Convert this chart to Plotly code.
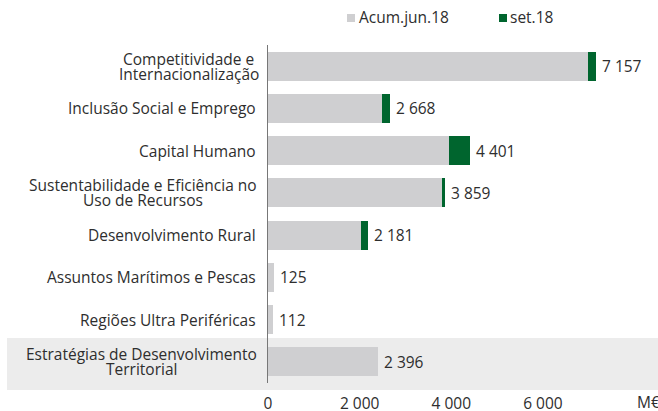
import plotly.graph_objects as go

# label lines per category (two-line labels are split as in the reference)
categories = [
    ["Competitividade e", "Internacionalização"],
    ["Inclusão Social e Emprego"],
    ["Capital Humano"],
    ["Sustentabilidade e Eficiência no", "Uso de Recursos"],
    ["Desenvolvimento Rural"],
    ["Assuntos Marítimos e Pescas"],
    ["Regiões Ultra Periféricas"],
    ["Estratégias de Desenvolvimento", "Territorial"],
]
acum_jun18 = [6976, 2487, 3957, 3790, 2029, 125, 112, 2396]
set18 = [181, 181, 444, 69, 152, 0, 0, 0]
series_names = ["Acum.jun.18", "set.18"]
tick_vals = [0, 2000, 4000, 6000]
tick_text = ["0", "2 000", "4 000", "6 000"]
unit_label = "M€"

totals = [a + s for a, s in zip(acum_jun18, set18)]
ypos = list(range(len(categories)))

FONT = "Open Sans"
FS = 15.5
TXT = "#2e2e2e"
GRAY = "#cfcfd1"
GREEN = "#00652e"

# pixel helpers (plot area: x 268..658, y 45..383)
def px(p):
    return (p - 268) / 390.0

def py(p):
    return (383 - p) / 338.0

# horizontal centre (in pixels) of the two-line labels
two_line_centre = {0: 188.5, 3: 142.5, 7: 141.5}

fig = go.Figure()
fig.add_trace(go.Bar(
    y=ypos, x=acum_jun18, orientation="h", name=series_names[0],
    marker=dict(color=GRAY, line=dict(width=0)), width=0.685,
    showlegend=False,
))
fig.add_trace(go.Bar(
    y=ypos, x=set18, orientation="h", name=series_names[1],
    marker=dict(color=GREEN, line=dict(width=0)), width=0.685,
    showlegend=False,
))

font = dict(family=FONT, size=FS, color=TXT)
annotations = []
for i, (lines, tot) in enumerate(zip(categories, totals)):
    annotations.append(dict(
        x=tot, y=i, xref="x", yref="y", text=f"{tot:,}".replace(",", " "),
        showarrow=False, xanchor="left", xshift=4, font=font,
    ))
    if len(lines) == 1:
        annotations.append(dict(
            x=0, y=i, xref="paper", yref="y", text=lines[0], showarrow=False,
            xanchor="right", xshift=-10, font=font,
        ))
    else:
        cx = px(two_line_centre[i])
        annotations.append(dict(
            x=cx, y=i, xref="paper", yref="y", text=lines[0], showarrow=False,
            xanchor="center", yshift=7.6, font=font,
        ))
        annotations.append(dict(
            x=cx, y=i, xref="paper", yref="y", text=lines[1], showarrow=False,
            xanchor="center", yshift=-7.6, font=font,
        ))

annotations.append(dict(
    x=px(648), y=py(402), xref="paper", yref="paper", text=unit_label,
    showarrow=False, xanchor="center", yanchor="middle", font=font,
))
# legend (drawn manually to match the compact reference legend)
annotations.append(dict(
    x=px(357), y=py(17), xref="paper", yref="paper", text=series_names[0],
    showarrow=False, xanchor="left", yanchor="middle", font=font,
))
annotations.append(dict(
    x=px(508), y=py(17), xref="paper", yref="paper", text=series_names[1],
    showarrow=False, xanchor="left", yanchor="middle", font=font,
))

shapes = [
    dict(type="rect", xref="paper", yref="paper",
         x0=px(7), x1=1.0, y0=py(390), y1=py(338),
         fillcolor="#ececec", line=dict(width=0), layer="below"),
    dict(type="rect", xref="paper", yref="paper",
         x0=px(347), x1=px(355), y0=py(22), y1=py(14),
         fillcolor=GRAY, line=dict(width=0)),
    dict(type="rect", xref="paper", yref="paper",
         x0=px(499), x1=px(507), y0=py(22), y1=py(14),
         fillcolor=GREEN, line=dict(width=0)),
]

fig.update_layout(
    width=658, height=411,
    margin=dict(l=268, r=0, t=45, b=28, autoexpand=False),
    barmode="stack",
    paper_bgcolor="white",
    plot_bgcolor="rgba(0,0,0,0)",
    font=font,
    showlegend=False,
    annotations=annotations,
    shapes=shapes,
    xaxis=dict(
        range=[0, 8510], tickvals=tick_vals, ticktext=tick_text,
        showgrid=False, zeroline=False, showline=False, ticks="",
        ticklabelstandoff=9, tickfont=font, automargin=False,
    ),
    yaxis=dict(
        range=[7.5, -0.5], showticklabels=False, showgrid=False,
        zeroline=False, showline=True, linecolor="#777777", linewidth=1,
        ticks="", automargin=False,
    ),
)

fig.write_html(
    "out.html",
    config={"displayModeBar": False},
    post_script="document.body.style.margin='0px';document.body.style.overflow='hidden';",
)
